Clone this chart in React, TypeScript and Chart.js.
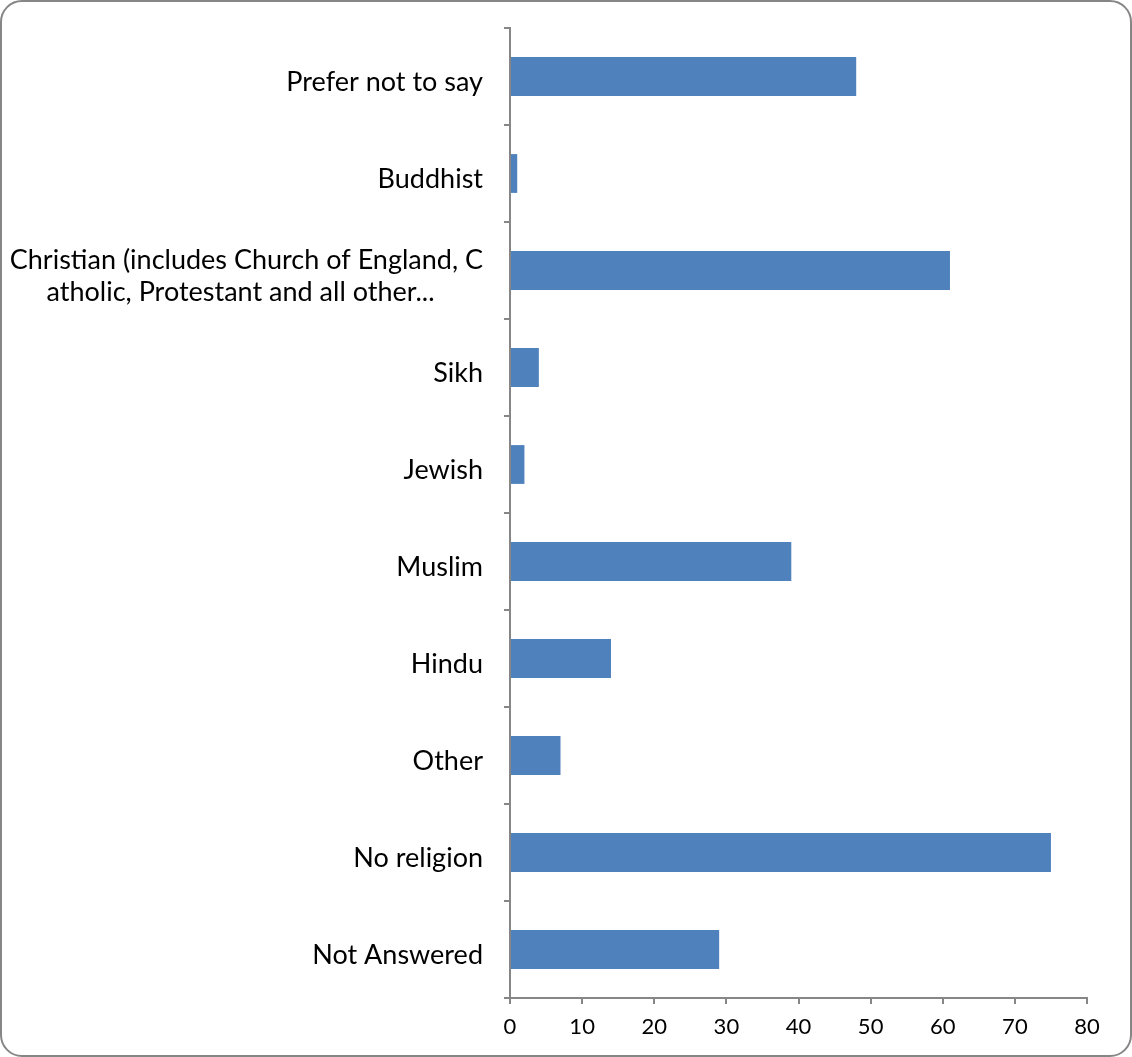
import React, { useEffect, useRef } from "react";
import { Chart, registerables } from "chart.js";

Chart.register(...registerables);

const categories: (string | string[])[] = [
  "Prefer not to say",
  "Buddhist",
  ["Christian (includes Church of England, C", "atholic, Protestant and all other...\u00a0\u00a0\u00a0\u00a0\u00a0\u00a0\u00a0"],
  "Sikh",
  "Jewish",
  "Muslim",
  "Hindu",
  "Other",
  "No religion",
  "Not Answered",
];
const counts = [48, 1, 61, 4, 2, 39, 14, 7, 75, 29];
const xMin = 0;
const xMax = 80;
const xStep = 10;

export default function App() {
  const ref = useRef<HTMLCanvasElement | null>(null);
  useEffect(() => {
    document.body.style.margin = "0";
    const ctx = ref.current!;
    const font = { family: "Lato, 'Open Sans', sans-serif", size: 27 };
    const chart = new Chart(ctx, {
      type: "bar",
      data: {
        labels: categories,
        datasets: [
          {
            data: counts,
            backgroundColor: "#4F81BD",
            barPercentage: 0.4,
            categoryPercentage: 1,
          },
        ],
      },
      options: {
        indexAxis: "y",
        animation: false,
        responsive: false,
        maintainAspectRatio: false,
        layout: { padding: { top: 28, right: 45, bottom: 0, left: 0 } },
        plugins: { legend: { display: false }, tooltip: { enabled: false } },
        scales: {
          x: {
            min: xMin,
            max: xMax,
            ticks: { stepSize: xStep, color: "#000", font: { ...font, size: 22 }, padding: 10, maxRotation: 0 },
            grid: { drawOnChartArea: false, drawTicks: true, tickLength: 6, color: "#868686", lineWidth: 2 },
            border: { display: true, color: "#868686", width: 2 },
            afterFit: (s: any) => { s.height = 59; },
          },
          y: {
            offset: true,
            ticks: { color: "#000", font, padding: 21, autoSkip: false, labelOffset: 6 },
            grid: { offset: true, drawOnChartArea: false, drawTicks: true, tickLength: 6, color: "#868686", lineWidth: 2 },
            border: { display: true, color: "#868686", width: 2 },
            afterFit: (s: any) => { s.width = 510; s.paddingTop = 0; s.paddingBottom = 0; },
          },
        },
      },
    });
    return () => chart.destroy();
  }, []);
  return (
    <div style={{ position: "relative", width: 1132, height: 1057 }}>
      <canvas ref={ref} width={1132} height={1057} style={{ position: "absolute", left: 0, top: 0 }} />
      <div
        style={{
          position: "absolute",
          left: 0,
          top: 0,
          width: 1132,
          height: 1057,
          boxSizing: "border-box",
          border: "2px solid #868686",
          borderRadius: 22,
          pointerEvents: "none",
        }}
      />
    </div>
  );
}
